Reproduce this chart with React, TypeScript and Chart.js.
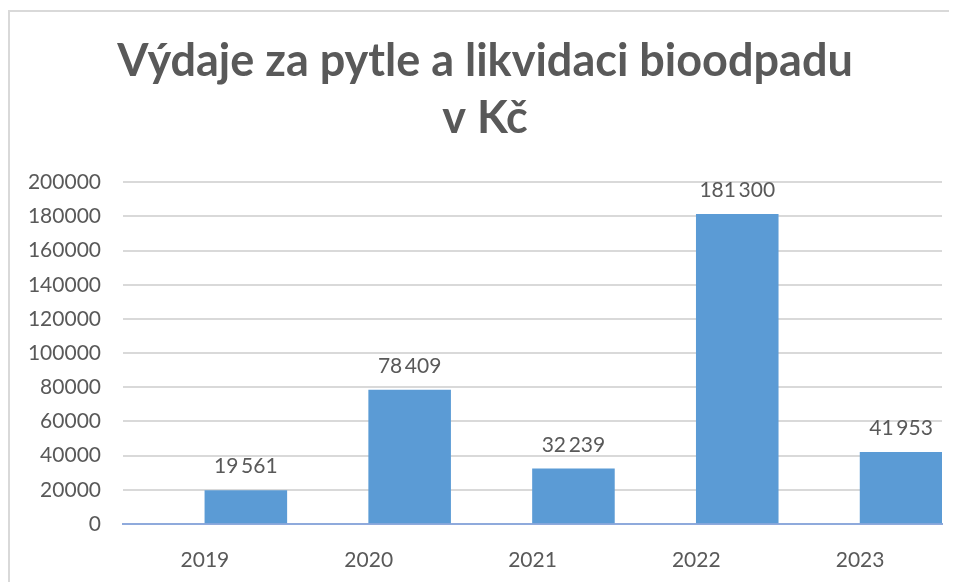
import React, { useEffect, useRef } from "react";
import { Chart, registerables } from "chart.js";

Chart.register(...registerables);

const years = ["2019", "2020", "2021", "2022", "2023"];
const expenses = [19561, 78409, 32239, 181300, 41953];
const emptySeries = [null, null, null, null, null];
const yMin = 0;
const yMax = 200000;
const yStep = 20000;
const titleLines = ["Výdaje za pytle a likvidaci bioodpadu", "v Kč"];

const TEXT = "#595959";
const BAR = "#5b9bd5";

const fmt = (v: number) => String(v).replace(/\B(?=(\d{3})+(?!\d))/g, "\u2009");

const labelPlugin = {
  id: "barLabels",
  afterDatasetsDraw(chart: any) {
    const ctx = chart.ctx;
    const meta = chart.getDatasetMeta(1);
    ctx.save();
    ctx.font = "21px Lato";
    ctx.fillStyle = TEXT;
    ctx.textAlign = "center";
    ctx.textBaseline = "middle";
    meta.data.forEach((bar: any, i: number) => {
      ctx.fillText(fmt(expenses[i]), bar.x, bar.y - 24);
    });
    ctx.restore();
  },
};

export default function App() {
  const ref = useRef<HTMLCanvasElement>(null);
  useEffect(() => {
    if (!ref.current) return;
    const chart = new Chart(ref.current, {
      type: "bar",
      data: {
        labels: years,
        datasets: [
          { label: "empty", data: emptySeries as any, backgroundColor: BAR },
          { label: "Výdaje", data: expenses, backgroundColor: BAR, borderWidth: 0 },
        ],
      },
      options: {
        responsive: false,
        animation: false,
        layout: { padding: { left: 18, right: 15, top: 0, bottom: 0 } },
        datasets: { bar: { categoryPercentage: 1, barPercentage: 1 } },
        plugins: {
          legend: { display: false },
          tooltip: { enabled: false },
          title: {
            display: true,
            text: titleLines,
            color: TEXT,
            font: { family: "Lato", size: 45, weight: "bold", lineHeight: 1.27 },
            padding: { top: 21, bottom: 35 },
          },
        },
        scales: {
          x: {
            grid: { display: false },
            border: { display: true, color: "#8faadc", width: 2 },
            ticks: { color: TEXT, font: { family: "Lato", size: 21 }, padding: 16 },
            afterFit: (s: any) => { s.height = 58; },
          },
          y: {
            min: yMin,
            max: yMax,
            ticks: {
              stepSize: yStep,
              color: TEXT,
              font: { family: "Lato", size: 21 },
              padding: 22,
              callback: (v: any) => String(v),
            },
            grid: {
              color: (c: any) => (c.tick && c.tick.value === 0 ? "rgba(0,0,0,0)" : "#d9d9d9"),
              lineWidth: 2,
              drawTicks: false,
            },
            border: { display: false },
            afterFit: (s: any) => { s.width = 95; },
          },
        },
      },
      plugins: [labelPlugin],
    });
    return () => chart.destroy();
  }, []);

  return (
    <div style={{ position: "relative", width: 949, height: 574 }}>
      <div
        style={{
          position: "absolute",
          left: 0,
          top: 2,
          width: 947,
          height: 570,
          borderLeft: "2px solid #d9d9d9",
          borderTop: "2px solid #d9d9d9",
          background: "#fff",
        }}
      >
        <canvas ref={ref} width={947} height={570} style={{ display: "block", width: 947, height: 570 }} />
      </div>
    </div>
  );
}
